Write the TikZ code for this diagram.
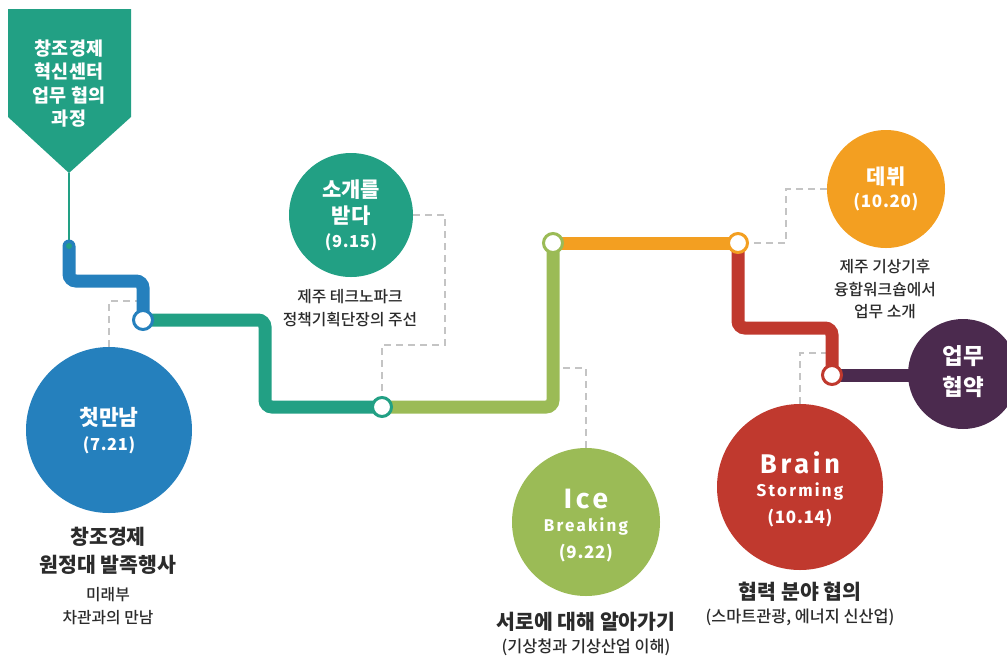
\documentclass[tikz,border=0pt]{standalone}
\usepackage{fontspec}
\setmainfont{Noto Sans CJK KR}
\newfontfamily\medfont{Noto Sans CJK KR Medium}
\newfontfamily\latinA[LetterSpace=14]{Fira Sans}
\newfontfamily\latinB[LetterSpace=13]{Fira Sans}
\newfontfamily\datefont[LetterSpace=4]{Noto Sans CJK KR}
\usetikzlibrary{calc}
\pgfdeclarelayer{bg}
\pgfsetlayers{bg,main}
\definecolor{cteal}{HTML}{22A084}
\definecolor{cblue}{HTML}{2580BD}
\definecolor{cgreen}{HTML}{9BBB56}
\definecolor{corange}{HTML}{F39F21}
\definecolor{cred}{HTML}{C0392E}
\definecolor{cpurple}{HTML}{4B2A4E}
\definecolor{cgray}{HTML}{C4C4C4}
\definecolor{ctext}{HTML}{2B2B2B}
\newcommand{\fsz}[1]{\fontsize{#1}{#1}\selectfont}
\begin{document}
\begin{tikzpicture}[x=1pt,y=-1pt,
  disc/.style={circle,inner sep=0pt,minimum size=#1},
  route/.style={line width=13pt,rounded corners=7pt},
  stopmark/.style={circle,fill=white,draw=#1,line width=3pt,minimum size=19pt,inner sep=0pt},
  leader/.style={draw=cgray,line width=2.5pt,dash pattern=on 7pt off 5pt},
  lbl/.style={inner sep=0pt,text=ctext},
  wt/.style={inner sep=0pt,text=white}]
\useasboundingbox (0,0) rectangle (1007,657);

% banner
\path[fill=cteal] (8,9) -- (131,9) -- (131,117) -- (69,173) -- (8,117) -- cycle;
\coordinate (tip) at (69,173);
\node[wt,font=\fsz{18.5}\bfseries] (b1) at (69,49) {창조경제};
\node[wt,font=\fsz{18.5}\bfseries] (b2) at (69,72) {혁신센터};
\node[wt,font=\fsz{18.5}\bfseries] (b3) at (69,96) {업무 협의};
\node[wt,font=\fsz{18.5}\bfseries] (b4) at (69,119) {과정};
\node[circle,fill=cteal,inner sep=0pt,minimum size=6pt] (dot) at (69,246) {};

% discs
\node[disc=166pt,fill=cblue] (c1) at (109,430) {};
\node[disc=124pt,fill=cteal] (c2) at (351,215) {};
\node[disc=148pt,fill=cgreen] (c3) at (586,522) {};
\node[disc=118pt,fill=corange] (c4) at (886,189) {};
\node[disc=166pt,fill=cred] (c5) at (800,487) {};
\node[disc=110pt,fill=cpurple] (c6) at (963,374) {};

% stops
\node[stopmark=cblue] (n1) at (143,320) {};
\node[stopmark=cteal] (n2) at (382,407) {};
\node[stopmark=cgreen] (n3) at (553,243) {};
\node[stopmark=corange] (n4) at (738,243) {};
\node[stopmark=cred] (n5) at (832,375) {};

\coordinate (d1) at (143,301);
\coordinate (d2) at (445,345);
\coordinate (d3) at (553,368);
\coordinate (d4) at (786,189);
\coordinate (d5) at (832,353);

\begin{pgfonlayer}{bg}
\draw[leader] (c1.north) |- (d1);
\draw[leader] (c2.east) -| (d2) -| (n2.center);
\draw[leader] (c3.north) |- (d3);
\draw[leader] (c4.west) -- (d4) |- (n4.center);
\draw[leader] (c5.north) |- (d5);
\draw[cteal,line width=1.3pt] (tip) -- (dot.center);
\draw[route,cblue,line cap=round] (dot.center) -- (69,281) -- (143,281) -- (n1.center);
\draw[route,cteal] (n1.center) -- (265,320) -- (265,407) -- (n2.center);
\draw[route,cgreen] (n2.center) -- (553,407) -- (n3.center);
\draw[route,corange] (n3.center) -- (n4.center);
\draw[route,cred] (n4.center) -- (738,328) -- (832,328) -- (n5.center);
\draw[route,cpurple] (n5.center) -- (n5.center -| c6.center);
\end{pgfonlayer}

% texts in discs
\node[wt,font=\fsz{21.5}\bfseries] (t1a) at (109,417) {첫만남};
\node[wt,font=\fsz{16.5}\bfseries\datefont] (t1b) at (109,445) {(7.21)};

\node[wt,font=\fsz{21}\bfseries] (t2a) at (351,190) {소개를};
\node[wt,font=\fsz{21}\bfseries] (t2b) at (351,216) {받다};
\node[wt,font=\fsz{16.5}\bfseries\datefont] (t2c) at (351,242) {(9.15)};

\node[wt,font=\fsz{28}\latinA\bfseries] (t3a) at (586,499) {Ice};
\node[wt,font=\fsz{17}\latinB\bfseries] (t3b) at (586,526) {Breaking};
\node[wt,font=\fsz{17}\bfseries\datefont] (t3c) at (586,553) {(9.22)};

\node[wt,font=\fsz{21}\bfseries] (t4a) at (886,177) {데뷔};
\node[wt,font=\fsz{17}\bfseries\datefont] (t4b) at (886,202) {(10.20)};

\node[wt,font=\fsz{27}\latinA\bfseries] (t5a) at (800,463) {Brain};
\node[wt,font=\fsz{17}\latinB\bfseries] (t5b) at (800,491) {Storming};
\node[wt,font=\fsz{17}\bfseries\datefont] (t5c) at (800,518) {(10.14)};

\node[wt,font=\fsz{22.5}\bfseries] (t6a) at (963,356) {업무};
\node[wt,font=\fsz{22.5}\bfseries] (t6b) at (963,387) {협약};

% captions
\node[lbl,font=\fsz{20.5}\bfseries] (l1a) at (108,537) {창조경제};
\node[lbl,font=\fsz{20.5}\bfseries] (l1b) at (108,565) {원정대 발족행사};
\node[lbl,font=\fsz{15.8}\medfont] (l1c) at (108,595) {미래부};
\node[lbl,font=\fsz{15.8}\medfont] (l1d) at (108,618) {차관과의 만남};

\node[lbl,font=\fsz{15.8}\medfont] (l2a) at (350,297) {제주 테크노파크};
\node[lbl,font=\fsz{15.8}\medfont] (l2b) at (350,320) {정책기획단장의 주선};

\node[lbl,font=\fsz{20.5}\bfseries] (l3a) at (586,622) {서로에 대해 알아가기};
\node[lbl,font=\fsz{16.3}\medfont] (l3b) at (586,647) {(기상청과 기상산업 이해)};

\node[lbl,font=\fsz{15.8}\medfont] (l4a) at (885,267) {제주 기상기후};
\node[lbl,font=\fsz{15.8}\medfont] (l4b) at (885,290) {융합워크숍에서};
\node[lbl,font=\fsz{15.8}\medfont] (l4c) at (885,312) {업무 소개};

\node[lbl,font=\fsz{20.5}\bfseries] (l5a) at (800,592) {협력 분야 협의};
\node[lbl,font=\fsz{16.3}\medfont] (l5b) at (800,617) {(스마트관광, 에너지 신산업)};
\end{tikzpicture}
\end{document}
